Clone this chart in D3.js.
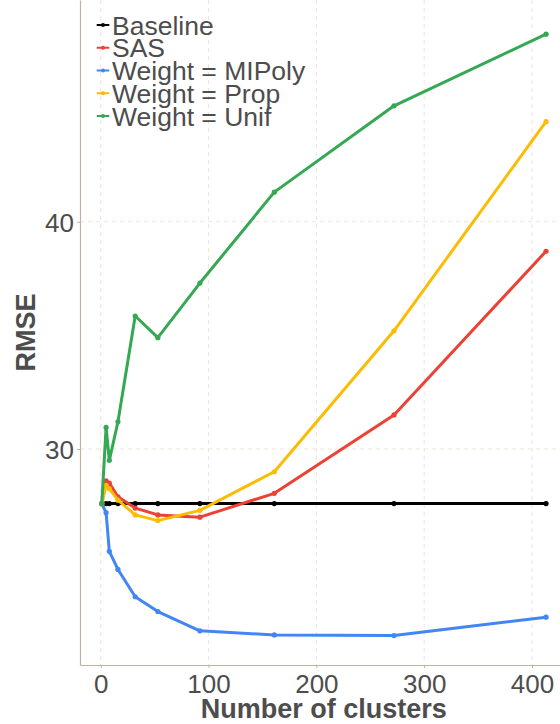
<!DOCTYPE html>
<html><head><meta charset="utf-8">
<script src="https://cdn.jsdelivr.net/npm/d3@7"></script>
<style>html,body{margin:0;padding:0;background:#fff;}svg{display:block;font-family:"Liberation Sans",Arial,sans-serif;}</style>
</head><body><svg id="c" width="560" height="724"></svg>
<script>
const clusters = [1, 5, 8, 16, 32, 53, 92, 161, 272, 413];
const baseline = [27.6, 27.6, 27.6, 27.6, 27.6, 27.6, 27.6, 27.6, 27.6, 27.6];
const sas      = [27.6, 28.6, 28.5, 27.9, 27.4, 27.1, 27.0, 28.05, 31.5, 38.7];
const mipoly   = [27.6, 27.2, 25.5, 24.7, 23.5, 22.85, 22.0, 21.82, 21.79, 22.6];
const prop     = [27.6, 28.4, 28.25, 27.75, 27.1, 26.85, 27.3, 29.0, 35.2, 44.4];
const unif     = [27.6, 30.95, 29.5, 31.2, 35.85, 34.9, 37.3, 41.3, 45.1, 48.25];
const seriesNames = ["Baseline", "SAS", "Weight = MIPoly", "Weight = Prop", "Weight = Unif"];
const seriesColors = ["#000000", "#EA4335", "#4285F4", "#FBBC05", "#34A853"];
const xTicks = [0, 100, 200, 300, 400];
const yTicks = [30, 40];

const series = [baseline, sas, mipoly, prop, unif].map((v, i) => ({
  name: seriesNames[i], color: seriesColors[i],
  pts: clusters.map((c, j) => ({x: c, y: v[j]}))
}));

const svg = d3.select("#c");
const L = 80, R = 567.6, T = 0, B = 665;
const x = d3.scaleLinear().domain([-19.2, 433]).range([L, R]);
const y = d3.scaleLinear().domain([20.497, 49.754]).range([B, T]);

const grid = svg.append("g");
xTicks.forEach(t => grid.append("line").attr("x1", x(t)).attr("x2", x(t)).attr("y1", T).attr("y2", B)
  .attr("stroke", "#efe4da").attr("stroke-width", 1).attr("stroke-dasharray", "4,4"));
yTicks.forEach(t => grid.append("line").attr("x1", L).attr("x2", 560).attr("y1", y(t)).attr("y2", y(t))
  .attr("stroke", "#efe4da").attr("stroke-width", 1).attr("stroke-dasharray", "4,4"));

const axisColor = "#bdb2a6";
const xa = svg.append("g").attr("transform", `translate(0,${B})`)
  .call(d3.axisBottom(x).tickValues(xTicks).tickSize(3).tickSizeOuter(0).tickPadding(6).tickFormat(d3.format("d")));
const ya = svg.append("g").attr("transform", `translate(${L},0)`)
  .call(d3.axisLeft(y).tickValues(yTicks).tickSize(3).tickSizeOuter(0).tickPadding(3).tickFormat(d3.format("d")));
[xa, ya].forEach(a => {
  a.select(".domain").attr("stroke", axisColor).attr("stroke-width", 1.2);
  a.selectAll(".tick line").attr("stroke", axisColor);
  a.selectAll(".tick text").attr("fill", "#4d4d4d").style("font-size", "26px")
   .style("font-family", '"Liberation Sans",Arial,sans-serif');
});
ya.selectAll(".tick text").attr("dy", "0.36em");
xa.selectAll(".tick text").attr("dy", "0.72em");

const line = d3.line().x(d => x(d.x)).y(d => y(d.y));
const g = svg.append("g");
series.forEach(s => {
  g.append("path").attr("d", line(s.pts)).attr("fill", "none").attr("stroke", s.color)
    .attr("stroke-width", 3).attr("stroke-linejoin", "round");
  g.selectAll(null).data(s.pts).enter().append("circle")
    .attr("cx", d => x(d.x)).attr("cy", d => y(d.y)).attr("r", 2.6).attr("fill", s.color);
});

svg.append("text").attr("x", (L + R) / 2).attr("y", 718).attr("text-anchor", "middle")
  .attr("fill", "#4d4d4d").style("font-size", "27px").style("font-weight", "bold").text("Number of clusters");
svg.append("text").attr("transform", `translate(35,${(T + B) / 2}) rotate(-90)`).attr("text-anchor", "middle")
  .attr("fill", "#4d4d4d").style("font-size", "27px").style("font-weight", "bold").text("RMSE");

const leg = svg.append("g");
series.forEach((s, i) => {
  const cy = 25 + i * 22.75;
  leg.append("line").attr("x1", 96.7).attr("x2", 109.3).attr("y1", cy).attr("y2", cy)
    .attr("stroke", s.color).attr("stroke-width", 2);
  leg.append("circle").attr("cx", 103).attr("cy", cy).attr("r", 2).attr("fill", s.color);
  leg.append("text").attr("x", 112).attr("y", cy + 9.5).attr("fill", "#4d4d4d")
    .style("font-size", "26.5px").text(s.name);
});
</script></body></html>
